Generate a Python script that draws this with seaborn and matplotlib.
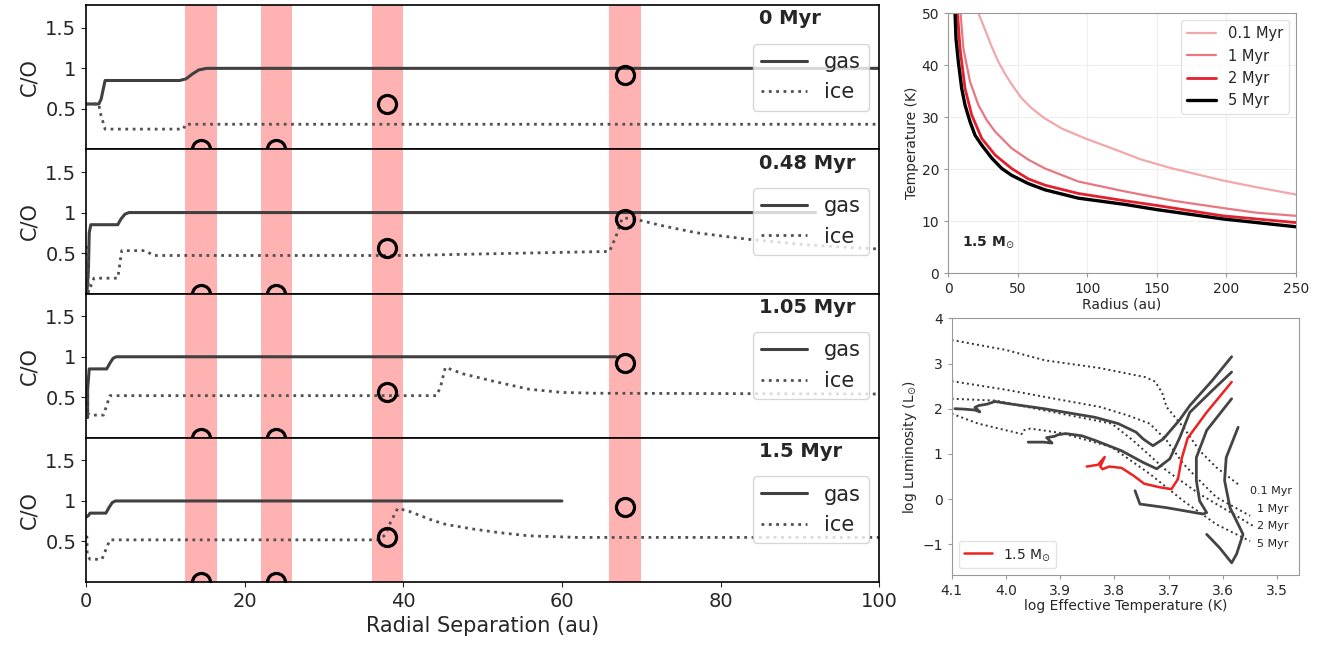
import matplotlib
matplotlib.use("Agg")
import matplotlib.pyplot as plt
import seaborn as sns

# ---- C/O profiles (left column) ----
snap_labels = ["0 Myr", "0.48 Myr", "1.05 Myr", "1.5 Myr"]

gas_x_0 = [0, 1.6, 1.9, 2.4, 11.8, 12.6, 13.4, 14.2, 15.2, 100]
gas_y_0 = [0.56, 0.56, 0.62, 0.85, 0.85, 0.87, 0.93, 0.98, 1.0, 1.0]
ice_x_0 = [0, 1.6, 1.8, 2.4, 12.3, 12.5, 100]
ice_y_0 = [0.56, 0.56, 0.45, 0.25, 0.25, 0.31, 0.31]

gas_x_1 = [0.1, 0.3, 0.4, 0.6, 4.0, 4.4, 4.9, 5.4, 92]
gas_y_1 = [0.0, 0.3, 0.75, 0.85, 0.85, 0.92, 0.98, 1.0, 1.0]
ice_x_1 = [0, 0.2, 0.3, 1.0, 4.0, 4.5, 5.0, 7.5, 8.5, 40, 66, 66.8, 67.6, 68.5,
           70, 73, 77, 83.5, 90, 95, 100]
ice_y_1 = [0.57, 0.57, 0.02, 0.19, 0.19, 0.53, 0.53, 0.53, 0.47, 0.47, 0.52, 0.7,
           0.93, 0.93, 0.9, 0.83, 0.75, 0.67, 0.61, 0.575, 0.55]

gas_x_2 = [0.2, 0.2, 0.4, 2.6, 3.0, 3.4, 3.8, 66.8]
gas_y_2 = [0.25, 0.6, 0.85, 0.85, 0.92, 0.98, 1.0, 1.0]
ice_x_2 = [0.15, 0.2, 0.6, 2.2, 2.6, 3.0, 44.2, 44.7, 45.3, 47.5, 51.7, 55.8,
           60, 64, 100]
ice_y_2 = [0.58, 0.3, 0.28, 0.28, 0.4, 0.52, 0.52, 0.63, 0.87, 0.79, 0.69, 0.6,
           0.56, 0.55, 0.54]

gas_x_3 = [0, 0.3, 0.5, 2.5, 2.9, 3.3, 3.7, 60]
gas_y_3 = [0.8, 0.82, 0.85, 0.85, 0.92, 0.98, 1.0, 1.0]
ice_x_3 = [0.1, 0.15, 0.5, 2.0, 2.5, 3.0, 37, 37.8, 38.4, 39.3, 40.8, 43.7, 45.4,
           48.7, 52, 55.8, 62, 100]
ice_y_3 = [0.57, 0.33, 0.28, 0.28, 0.4, 0.52, 0.52, 0.59, 0.74, 0.91, 0.87, 0.76,
           0.71, 0.655, 0.61, 0.57, 0.55, 0.55]

planet_x = [14.5, 24, 38, 68]
planet_y = [0.0, 0.0, 0.56, 0.92]
band_lo = [12.5, 22, 36, 66]
band_hi = [16.5, 26, 40, 70]

# ---- disc temperature (top right) ----
radius_01 = [18.5, 21.8, 26.6, 31.4, 36.2, 41, 45.7, 52.9, 60.1, 69.7, 81.7, 98.4,
             117.6, 138, 160, 174, 197.5, 221.7, 250]
temp_01 = [56, 50, 46.8, 43.5, 40.6, 38.3, 36.3, 33.6, 31.7, 29.7, 27.8, 25.9,
           24.0, 21.9, 20.2, 19.3, 17.8, 16.5, 15.1]
radius_1 = [7.2, 11, 15.8, 21.8, 27.8, 33.8, 45.7, 57.7, 69.7, 93.6, 127, 162,
            197.5, 221.7, 250]
temp_1 = [56, 43.2, 36.8, 32.3, 29.4, 27.2, 24.0, 21.8, 20.1, 17.6, 15.7, 13.9,
          12.5, 11.6, 11.0]
radius_2 = [5.2, 8.6, 12.2, 17, 24.2, 33.8, 45.7, 57.7, 69.7, 93.6, 127, 150,
            197.5, 250]
temp_2 = [56, 43.2, 35.5, 30.4, 25.9, 22.7, 20.1, 18.1, 16.9, 15.3, 13.9, 13.0,
          11.0, 9.7]
radius_5 = [4.2, 5.7, 7.4, 9.8, 12.2, 15.8, 19.4, 24.2, 31.4, 38.6, 45.7, 57.7,
            69.7, 93.6, 127, 150, 197.5, 250]
temp_5 = [56, 45.1, 40.6, 35.5, 32.3, 29.1, 26.5, 24.6, 22.1, 20.1, 18.8, 17.2,
          16.0, 14.4, 13.2, 12.2, 10.4, 8.9]
temp_labels = ["0.1 Myr", "1 Myr", "2 Myr", "5 Myr"]

# ---- HR diagram (bottom right) ----
track_a_logt = [4.094, 4.076, 4.057, 4.048, 4.057, 4.05, 4.035, 4.02, 4.0, 3.93,
                3.836, 3.793, 3.76, 3.747, 3.729, 3.71, 3.68, 3.661, 3.62, 3.584]
track_a_logl = [2.0, 1.99, 1.97, 1.93, 2.03, 2.07, 2.1, 2.16, 2.12, 2.0,
                1.81, 1.67, 1.48, 1.33, 1.18, 1.33, 1.75, 2.07, 2.62, 3.15]
track_b_logt = [3.959, 3.93, 3.915, 3.925, 3.91, 3.905, 3.89, 3.86, 3.836, 3.787,
                3.747, 3.722, 3.698, 3.68, 3.661, 3.62, 3.584]
track_b_logl = [1.26, 1.26, 1.24, 1.36, 1.39, 1.42, 1.45, 1.4, 1.3, 1.07,
                0.81, 0.67, 0.89, 1.35, 1.92, 2.4, 2.81]
track_red_logt = [3.851, 3.83, 3.818, 3.826, 3.822, 3.81, 3.787, 3.765, 3.745, 3.716,
                  3.695, 3.683, 3.676, 3.665, 3.63, 3.584]
track_red_logl = [0.72, 0.76, 0.93, 0.72, 0.66, 0.72, 0.69, 0.52, 0.34, 0.26,
                  0.22, 0.44, 0.9, 1.35, 1.92, 2.59]
track_d_logt = [3.762, 3.753, 3.704, 3.637, 3.63, 3.643, 3.649, 3.649, 3.63, 3.584]
track_d_logl = [0.185, -0.11, -0.19, -0.33, -0.30, -0.04, 0.41, 0.92, 1.52, 2.22]
track_e_logt = [3.572, 3.594, 3.597, 3.587, 3.569, 3.563, 3.575, 3.584, 3.606, 3.63]
track_e_logl = [1.59, 0.92, 0.41, -0.19, -0.63, -0.78, -1.22, -1.41, -1.08, -0.78]

iso_01_logt = [4.1, 4.0, 3.928, 3.827, 3.744, 3.725, 3.712, 3.704, 3.673, 3.643, 3.612, 3.569]
iso_01_logl = [3.52, 3.3, 3.07, 2.9, 2.7, 2.6, 2.35, 2.04, 1.59, 1.07, 0.70, 0.30]
iso_1_logt = [4.1, 4.0, 3.928, 3.827, 3.775, 3.735, 3.704, 3.673, 3.643, 3.612, 3.55]
iso_1_logl = [2.61, 2.42, 2.26, 2.04, 1.85, 1.67, 1.30, 0.78, 0.41, 0.04, -0.37]
iso_2_logt = [4.1, 4.02, 3.928, 3.805, 3.766, 3.704, 3.643, 3.581, 3.545]
iso_2_logl = [2.22, 2.18, 1.96, 1.67, 1.30, 0.63, 0.11, -0.33, -0.59]
iso_5_logt = [4.1, 4.051, 3.971, 3.968, 3.955, 3.897, 3.805, 3.735, 3.673, 3.612, 3.55]
iso_5_logl = [1.89, 1.67, 1.44, 1.52, 1.56, 1.46, 1.15, 0.56, -0.04, -0.56, -0.93]
iso_labels = ["0.1 Myr", "1 Myr", "2 Myr", "5 Myr"]
iso_label_logt = [3.55, 3.538, 3.538, 3.538]
iso_label_logl = [0.185, -0.22, -0.59, -1.0]

sns.set_style("ticks")
plt.rcParams["font.family"] = ["DejaVu Sans"]

fig = plt.figure(figsize=(13.28, 6.45), dpi=100)

# left column: four stacked panels
gs = fig.add_gridspec(4, 1, left=0.0648, right=0.662, bottom=0.0977, top=0.992, hspace=0)
gas_sets = [(gas_x_0, gas_y_0), (gas_x_1, gas_y_1), (gas_x_2, gas_y_2), (gas_x_3, gas_y_3)]
ice_sets = [(ice_x_0, ice_y_0), (ice_x_1, ice_y_1), (ice_x_2, ice_y_2), (ice_x_3, ice_y_3)]

for i in range(4):
    ax = fig.add_subplot(gs[i])
    for lo, hi in zip(band_lo, band_hi):
        ax.axvspan(lo, hi, color="red", alpha=0.3, lw=0, zorder=0)
    sns.lineplot(x=gas_sets[i][0], y=gas_sets[i][1], ax=ax, color="#404040", lw=2.2,
                 sort=False, estimator=None, label="gas")
    sns.lineplot(x=ice_sets[i][0], y=ice_sets[i][1], ax=ax, color="#505050", lw=2.0,
                 linestyle=":", sort=False, estimator=None, label="ice")
    ax.plot(planet_x, planet_y, "o", mfc="none", mec="black", ms=13, mew=2.3, zorder=5)
    ax.set_xlim(0, 100)
    ax.set_ylim(0, 1.78)
    ax.set_yticks([0.5, 1, 1.5])
    ax.set_yticklabels(["0.5", "1", "1.5"], fontsize=14)
    ax.set_ylabel("C/O", fontsize=15)
    for sp in ax.spines.values():
        sp.set_visible(True)
        sp.set_color("black")
        sp.set_linewidth(1.2)
    ax.text(0.848, 0.905, snap_labels[i], transform=ax.transAxes, fontsize=14,
            fontweight="bold", ha="left", va="center")
    ax.legend(loc="center right", fontsize=15, frameon=True, framealpha=0.8,
              handlelength=2.2, edgecolor="#cccccc")
    if i < 3:
        ax.tick_params(axis="x", bottom=False, labelbottom=False)
    else:
        ax.set_xticks([0, 20, 40, 60, 80, 100])
        ax.tick_params(axis="x", labelsize=14)
        ax.set_xlabel("Radial Separation (au)", fontsize=15)

# top right: temperature profiles
ax_t = fig.add_axes([0.7139, 0.5767, 0.262, 0.403])
temp_colors = ["#f2a7ab", "#e8777f", "#e3202b", "#000000"]
temp_widths = [1.6, 1.6, 2.0, 2.4]
temp_sets = [(radius_01, temp_01), (radius_1, temp_1), (radius_2, temp_2), (radius_5, temp_5)]
for (rx, ty), c, w, lab in zip(temp_sets, temp_colors, temp_widths, temp_labels):
    sns.lineplot(x=rx, y=ty, ax=ax_t, color=c, lw=w, sort=False, estimator=None, label=lab)
ax_t.set_xlim(0, 250)
ax_t.set_ylim(0, 50)
ax_t.set_xticks([0, 50, 100, 150, 200, 250])
ax_t.set_yticks([0, 10, 20, 30, 40, 50])
ax_t.grid(color="#eeeeee", lw=0.8)
ax_t.tick_params(labelsize=10, length=3, color="#999999")
ax_t.set_xlabel("Radius (au)", fontsize=10, labelpad=1)
ax_t.set_ylabel("Temperature (K)", fontsize=10, labelpad=2)
for sp in ax_t.spines.values():
    sp.set_visible(True)
    sp.set_color("#999999")
ax_t.legend(loc="upper right", fontsize=10.5, frameon=True, framealpha=0.8,
            edgecolor="#dddddd")
ax_t.text(0.04, 0.12, r"1.5 M$_{\odot}$", transform=ax_t.transAxes, fontsize=10,
          fontweight="bold", ha="left", va="center")

# bottom right: HR diagram
ax_h = fig.add_axes([0.7166, 0.1085, 0.2615, 0.398])
iso_sets = [(iso_01_logt, iso_01_logl), (iso_1_logt, iso_1_logl),
            (iso_2_logt, iso_2_logl), (iso_5_logt, iso_5_logl)]
for lt, ll in iso_sets:
    sns.lineplot(x=lt, y=ll, ax=ax_h, color="#333333", lw=1.4, linestyle=":",
                 sort=False, estimator=None, legend=False)
grey_tracks = [(track_a_logt, track_a_logl), (track_b_logt, track_b_logl),
               (track_d_logt, track_d_logl), (track_e_logt, track_e_logl)]
for lt, ll in grey_tracks:
    sns.lineplot(x=lt, y=ll, ax=ax_h, color="#444444", lw=2.0, sort=False,
                 estimator=None, legend=False)
sns.lineplot(x=track_red_logt, y=track_red_logl, ax=ax_h, color="#ee2222", lw=1.8,
             sort=False, estimator=None, label=r"1.5 M$_{\odot}$")
for lab, lt, ll in zip(iso_labels, iso_label_logt, iso_label_logl):
    ax_h.text(lt, ll, lab, fontsize=8, ha="left", va="center", color="#222222")
ax_h.set_xlim(4.1, 3.46)
ax_h.set_ylim(-1.68, 4)
ax_h.set_xticks([4.1, 4.0, 3.9, 3.8, 3.7, 3.6, 3.5])
ax_h.set_yticks([-1, 0, 1, 2, 3, 4])
ax_h.tick_params(labelsize=10, length=3, color="#999999")
ax_h.set_xlabel("log Effective Temperature (K)", fontsize=10, labelpad=1)
ax_h.set_ylabel(r"log Luminosity (L$_{\odot}$)", fontsize=10, labelpad=2)
for sp in ax_h.spines.values():
    sp.set_visible(True)
    sp.set_color("#999999")
ax_h.legend(loc="lower left", fontsize=10, frameon=True, framealpha=0.8,
            edgecolor="#dddddd")

fig.savefig("out.png", dpi=100)
